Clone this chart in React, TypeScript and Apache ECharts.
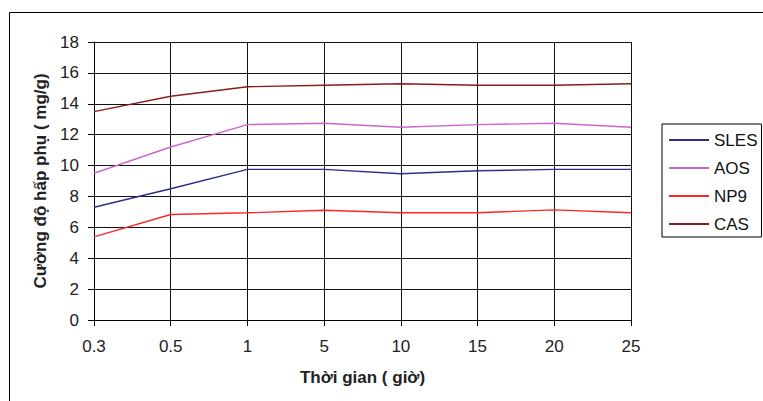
import React, { useEffect, useRef } from "react";
import * as echarts from "echarts";

const categories = ["0.3", "0.5", "1", "5", "10", "15", "20", "25"];
const slesValues = [7.3, 8.5, 9.75, 9.75, 9.47, 9.66, 9.75, 9.75];
const aosValues = [9.5, 11.2, 12.65, 12.74, 12.48, 12.65, 12.74, 12.48];
const np9Values = [5.38, 6.83, 6.94, 7.11, 6.94, 6.94, 7.13, 6.94];
const casValues = [13.49, 14.49, 15.1, 15.2, 15.3, 15.2, 15.2, 15.3];
const seriesNames = ["SLES", "AOS", "NP9", "CAS"];
const seriesColors = ["#2E2E8A", "#CC66CC", "#FF2626", "#8B1C1C"];

const FONT = "'Liberation Sans', Arial, sans-serif";

export default function App() {
  const ref = useRef<HTMLDivElement>(null);
  useEffect(() => {
    if (!ref.current) return;
    const chart = echarts.init(ref.current, null, { renderer: "svg" });
    const values = [slesValues, aosValues, np9Values, casValues];
    chart.setOption({
      animation: false,
      backgroundColor: "#ffffff",
      textStyle: { fontFamily: FONT },
      graphic: [
        {
          type: "rect",
          shape: { x: 9.5, y: 12.5, width: 800, height: 500 },
          style: { fill: "none", stroke: "#000", lineWidth: 1 },
          z: -1,
        },
      ],
      grid: { left: 94, top: 42, width: 537, height: 278, containLabel: false },
      legend: {
        orient: "vertical",
        left: 662,
        top: 124,
        data: seriesNames,
        icon: "rect",
        itemWidth: 40,
        itemHeight: 2,
        itemGap: 10,
        padding: [7, 4, 4, 7],
        borderColor: "#000",
        borderWidth: 1,
        textStyle: { fontFamily: FONT, fontSize: 17, color: "#111", lineHeight: 18 },
      },
      xAxis: {
        type: "category",
        data: categories,
        boundaryGap: false,
        name: "Thời gian ( giờ)",
        nameLocation: "middle",
        nameGap: 49,
        nameTextStyle: { fontFamily: FONT, fontSize: 17, fontWeight: "bold", color: "#222" },
        axisLine: { lineStyle: { color: "#000", width: 1 } },
        axisTick: { show: true, length: 6, alignWithLabel: true, lineStyle: { color: "#000" } },
        axisLabel: { margin: 18, fontFamily: FONT, fontSize: 17, color: "#222" },
        splitLine: { show: true, lineStyle: { color: "#111", width: 1 } },
      },
      yAxis: {
        type: "value",
        min: 0,
        max: 18,
        interval: 2,
        name: "Cường độ hấp phụ ( mg/g)",
        nameLocation: "middle",
        nameGap: 43,
        nameTextStyle: { fontFamily: FONT, fontSize: 17, fontWeight: "bold", color: "#222" },
        axisLine: { show: true, lineStyle: { color: "#000", width: 1 } },
        axisTick: { show: true, length: 6, lineStyle: { color: "#000" } },
        axisLabel: { margin: 15, fontFamily: FONT, fontSize: 17, color: "#222" },
        splitLine: { show: true, lineStyle: { color: "#111", width: 1 } },
      },
      series: seriesNames.map((name, i) => ({
        name,
        type: "line",
        data: values[i],
        symbol: "none",
        showSymbol: false,
        color: seriesColors[i],
        lineStyle: { color: seriesColors[i], width: 1.4 },
      })),
    });
    return () => chart.dispose();
  }, []);
  return (
    <div style={{ position: "absolute", left: 0, top: 0, width: 763, height: 401, background: "#fff" }}>
      <div ref={ref} style={{ width: 763, height: 401 }} />
    </div>
  );
}
